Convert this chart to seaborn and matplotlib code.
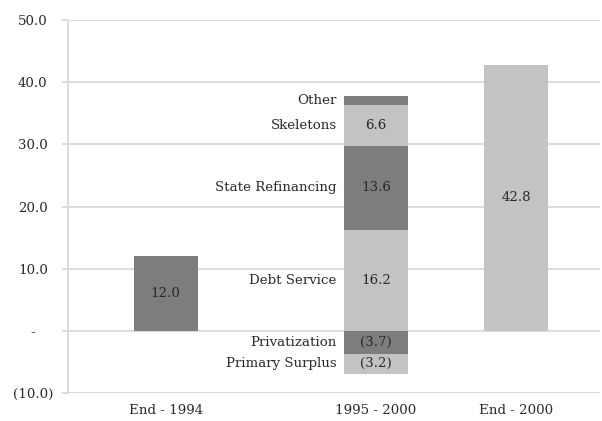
import numpy as np
import matplotlib
matplotlib.use("Agg")
import matplotlib.pyplot as plt
import seaborn as sns

# data
categories = ["End - 1994", "1995 - 2000", "End - 2000"]
start_debt = 12.0
end_debt = 42.8
flow_names = ["Privatization", "Primary Surplus", "Debt Service",
              "State Refinancing", "Skeletons", "Other"]
flow_values = [-3.7, -3.2, 16.2, 13.6, 6.6, 1.3]
flow_shade = ["dark", "light", "light", "dark", "light", "dark"]
show_value = [True, True, True, True, True, False]
y_ticks = [-10, 0, 10, 20, 30, 40, 50]
y_tick_labels = ["(10.0)", "-", "10.0", "20.0", "30.0", "40.0", "50.0"]

DARK = "#7d7d7d"
LIGHT = "#c3c3c3"
GRID = "#d9d9d9"
TXT = "#2a2a2a"
FS = 9.6

sns.set_theme(style="white")
plt.rcParams["font.family"] = ["DejaVu Serif"]

fig = plt.figure(figsize=(6.02, 4.21), dpi=100)
ax = fig.add_axes([0.113, 0.0665, 0.884, 0.886])

x_pos = [0, 1.5, 2.5]
width = 0.457


def fmt(v):
    return f"({abs(v):.1f})" if v < 0 else f"{v:.1f}"


# opening and closing balances
for x, v in [(x_pos[0], start_debt), (x_pos[2], end_debt)]:
    colour = DARK if x == x_pos[0] else LIGHT
    ax.bar(x, v, width=width, color=colour, edgecolor="none", zorder=3)
    ax.text(x, v / 2, fmt(v), ha="center", va="center", fontsize=FS, color=TXT, zorder=4)

# stacked flows in the middle
pos_base, neg_base = 0.0, 0.0
for name, v, shade, show in zip(flow_names, flow_values, flow_shade, show_value):
    if v >= 0:
        bottom = pos_base
        pos_base += v
    else:
        bottom = neg_base
        neg_base += v
    colour = DARK if shade == "dark" else LIGHT
    ax.bar(x_pos[1], v, bottom=bottom, width=width, color=colour,
           edgecolor="none", zorder=3)
    mid = bottom + v / 2
    if show:
        ax.text(x_pos[1], mid, fmt(v), ha="center", va="center", fontsize=FS,
                color=TXT, zorder=4)
    ax.text(x_pos[1] - width / 2 - 0.05, mid, name, ha="right", va="center",
            fontsize=FS, color=TXT, zorder=4)

ax.set_xlim(-0.696, 3.10)
ax.set_ylim(-10, 50)
ax.set_yticks(y_ticks)
ax.set_yticklabels(y_tick_labels, ha="center")
ax.set_xticks(x_pos)
ax.set_xticklabels(categories)
ax.yaxis.grid(True, color=GRID, linewidth=1.3, zorder=0)
ax.xaxis.grid(False)
for s in ["top", "right", "bottom"]:
    ax.spines[s].set_visible(False)
ax.spines["left"].set_color(GRID)
ax.spines["left"].set_linewidth(1.3)
ax.tick_params(axis="y", length=4.3, width=1.3, color=GRID, pad=21,
               labelsize=FS, labelcolor=TXT, left=True)
ax.tick_params(axis="x", length=0, pad=8, labelsize=FS, labelcolor=TXT)

fig.savefig("out.png", dpi=100)
